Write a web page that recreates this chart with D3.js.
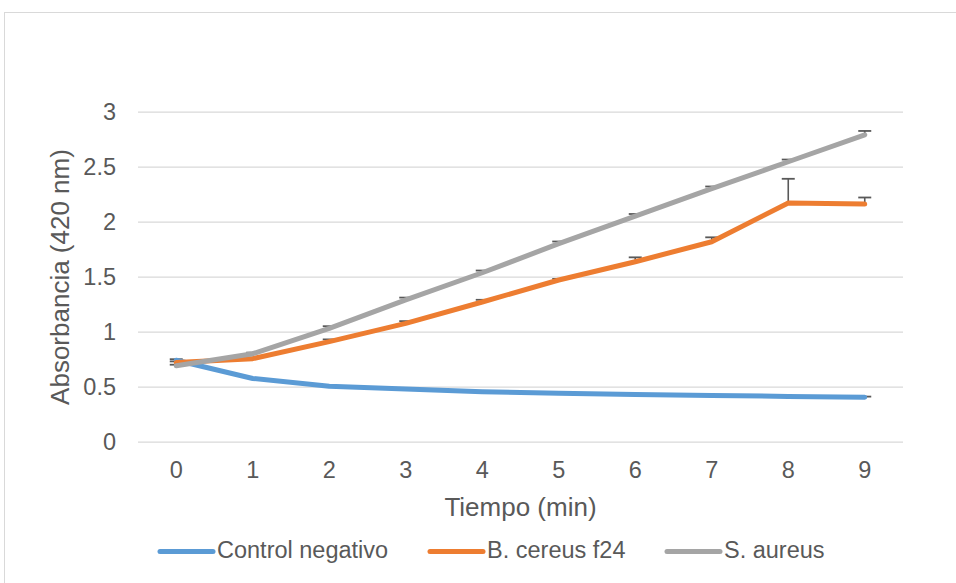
<!DOCTYPE html>
<html>
<head>
<meta charset="utf-8">
<script src="https://cdn.jsdelivr.net/npm/d3@7"></script>
<style>
  body { margin: 0; background: #fff; }
  svg { font-family: "Liberation Sans", Arial, sans-serif; }
</style>
</head>
<body>
<div id="chart"></div>
<script>
//data
var times = [0, 1, 2, 3, 4, 5, 6, 7, 8, 9];
var yTicks = [0, 0.5, 1, 1.5, 2, 2.5, 3];
var seriesNames = ['Control negativo', 'B. cereus f24', 'S. aureus'];

var controlVals = [0.74, 0.575, 0.505, 0.478, 0.455, 0.44, 0.43, 0.42, 0.412, 0.405];
var controlErr  = [0.01, 0.005, 0.005, 0.005, 0.005, 0.005, 0.005, 0.005, 0.005, 0.005];
var cereusVals  = [0.72, 0.755, 0.91, 1.076, 1.27, 1.47, 1.636, 1.818, 2.17, 2.16];
var cereusErr   = [0.01, 0.01, 0.02, 0.02, 0.02, 0.01, 0.04, 0.04, 0.22, 0.06];
var aureusVals  = [0.69, 0.80, 1.03, 1.29, 1.536, 1.80, 2.05, 2.30, 2.545, 2.79];
var aureusErr   = [0.01, 0.01, 0.02, 0.02, 0.02, 0.02, 0.02, 0.02, 0.02, 0.035];

//other
var colors = ['#5B9BD5', '#ED7D31', '#A5A5A5'];
var textColor = '#595959';

var series = [
    { name: seriesNames[0], vals: controlVals, err: controlErr, color: colors[0] },
    { name: seriesNames[1], vals: cereusVals, err: cereusErr, color: colors[1] },
    { name: seriesNames[2], vals: aureusVals, err: aureusErr, color: colors[2] }
];

//sizes
var outerW = 956,
    outerH = 583,
    plot = { left: 138, right: 903, top: 111.7, bottom: 441.7 };

var svg = d3.select('#chart').append('svg')
    .attr('width', outerW)
    .attr('height', outerH);

//chart border (runs off the right/bottom edge)
svg.append('rect')
    .attr('x', 4.5)
    .attr('y', 12.5)
    .attr('width', 1200)
    .attr('height', 1200)
    .attr('fill', '#fff')
    .attr('stroke', '#D9D9D9')
    .attr('stroke-width', 1);

//scales
var xScale = d3.scaleBand()
    .domain(times)
    .range([plot.left, plot.right]);

var xPos = function(t) { return xScale(t) + xScale.bandwidth() / 2; };

var yScale = d3.scaleLinear()
    .domain([0, 3])
    .range([plot.bottom, plot.top]);

//y axis with gridlines
var yAxis = d3.axisLeft(yScale)
    .tickValues(yTicks)
    .tickSize(-(plot.right - plot.left))
    .tickPadding(22)
    .tickFormat(function(d) { return d; });

var yAxisG = svg.append('g')
    .attr('transform', 'translate(' + plot.left + ',0)')
    .call(yAxis);

yAxisG.select('.domain').remove();
yAxisG.selectAll('.tick line')
    .attr('stroke', '#D9D9D9')
    .attr('stroke-width', 1.3);
yAxisG.selectAll('.tick text')
    .attr('fill', textColor)
    .style('font-size', '23.5px');

//x axis
var xAxis = d3.axisBottom(xScale)
    .tickSize(0)
    .tickPadding(20);

var xAxisG = svg.append('g')
    .attr('transform', 'translate(0,' + plot.bottom + ')')
    .call(xAxis);

xAxisG.select('.domain').remove();
xAxisG.selectAll('.tick text')
    .attr('fill', textColor)
    .style('font-size', '23.5px');

//axis titles
svg.append('text')
    .attr('x', (plot.left + plot.right) / 2)
    .attr('y', 516)
    .attr('text-anchor', 'middle')
    .attr('fill', textColor)
    .style('font-size', '26px')
    .text('Tiempo (min)');

svg.append('text')
    .attr('transform', 'translate(69,' + 277 + ') rotate(-90)')
    .attr('text-anchor', 'middle')
    .attr('fill', textColor)
    .style('font-size', '26px')
    .text('Absorbancia (420 nm)');

//error bars (behind lines)
var errG = svg.append('g');
series.forEach(function(s) {
    times.forEach(function(t, i) {
        var x = xPos(t),
            y0 = yScale(s.vals[i]),
            y1 = yScale(s.vals[i] + s.err[i]);
        errG.append('line')
            .attr('x1', x).attr('x2', x)
            .attr('y1', y0).attr('y2', y1)
            .attr('stroke', textColor)
            .attr('stroke-width', 1.6);
        errG.append('line')
            .attr('x1', x - 6.5).attr('x2', x + 6.5)
            .attr('y1', y1).attr('y2', y1)
            .attr('stroke', textColor)
            .attr('stroke-width', 1.8);
    });
});

//lines
var line = d3.line()
    .x(function(d) { return xPos(d.t); })
    .y(function(d) { return yScale(d.v); });

series.forEach(function(s) {
    var pts = times.map(function(t, i) { return { t: t, v: s.vals[i] }; });
    svg.append('path')
        .datum(pts)
        .attr('d', line)
        .attr('fill', 'none')
        .attr('stroke', s.color)
        .attr('stroke-width', 5)
        .attr('stroke-linejoin', 'round')
        .attr('stroke-linecap', 'round');
});

//legend
var legendX = [160, 430, 667],
    legendY = 551.5;

var legendG = svg.append('g');
series.forEach(function(s, i) {
    legendG.append('line')
        .attr('x1', legendX[i]).attr('x2', legendX[i] + 53)
        .attr('y1', legendY).attr('y2', legendY)
        .attr('stroke', s.color)
        .attr('stroke-width', 5)
        .attr('stroke-linecap', 'round');
    legendG.append('text')
        .attr('x', legendX[i] + 57)
        .attr('y', legendY - 1.5)
        .attr('dy', '0.35em')
        .attr('fill', textColor)
        .style('font-size', '23.5px')
        .text(s.name);
});
</script>
</body>
</html>
